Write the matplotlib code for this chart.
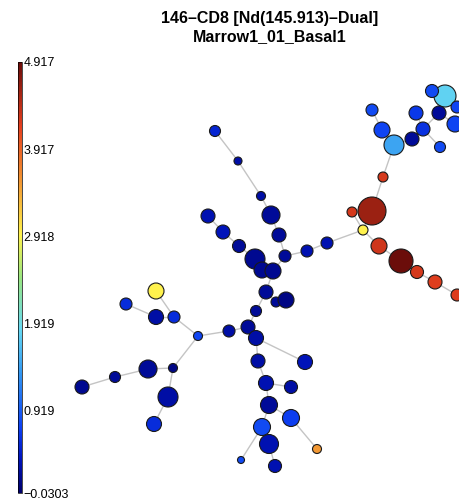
import numpy as np
import matplotlib
matplotlib.use("Agg")
import matplotlib.pyplot as plt
from matplotlib.colors import Normalize, LinearSegmentedColormap

plt.rcParams['font.family'] = ['Liberation Sans', 'DejaVu Sans']

# node layout, radius in px, marker value
node_x = [445, 432, 457, 439, 455, 416, 423, 412, 394, 382, 372, 440,
          383, 372, 352, 363, 379, 401, 417, 435, 457,
          327, 307, 285, 279, 271, 261, 238, 215, 208, 223, 239, 255, 262, 273,
          266, 276, 286, 256, 248, 256, 229, 198, 174, 156, 126, 156,
          173, 148, 115, 82, 168, 154, 258, 305, 266, 291, 269, 291, 317,
          262, 269, 241, 275]
node_y = [96, 91, 107, 113, 124, 113, 129, 139, 145, 130, 110, 147,
          177, 211, 212, 230, 246, 261, 272, 282, 295,
          243, 251, 256, 235, 215, 196, 161, 131, 216, 232, 246, 259, 270, 271,
          292, 302, 300, 311, 327, 338, 331, 336, 317, 317, 304, 291,
          368, 369, 377, 387, 397, 424, 361, 362, 383, 387, 405, 418, 449,
          427, 444, 460, 466]
node_r = [11, 6.5, 6, 7, 8, 7, 7, 7, 10, 8, 6, 5.5,
          5, 14, 5, 5, 8, 12, 6.5, 7, 6,
          6, 6, 6, 7, 9, 4.5, 4, 5.5, 7, 7, 6.5, 10, 8, 8,
          7, 5, 8, 5.5, 7, 7.5, 6, 4.5, 6, 7.5, 6, 8,
          4.5, 9, 5.5, 7, 10, 7.5, 7, 7.5, 7.5, 6.5, 8.5, 8.5, 4.5,
          8.5, 9.5, 3.5, 6.5]
node_val = [1.8, 0.8, 0.75, 0.2, 0.75, 0.65, 0.6, 0.2, 1.45, 0.75, 0.8, 0.8,
            4.27, 4.62, 4.27, 2.94, 4.3, 4.9, 4.27, 4.22, 4.22,
            0.3, 0.3, 0.2, 0.2, 0.2, 0.25, 0.25, 0.5, 0.3, 0.35, 0.2, 0.15, 0.15, 0.15,
            0.2, 0.2, 0.1, 0.2, 0.2, 0.25, 0.25, 0.75, 0.55, 0.25, 0.55, 2.94,
            0.1, 0.2, 0.2, 0.15, 0.25, 0.55, 0.25, 0.35, 0.3, 0.25, 0.2, 0.7, 3.53,
            0.8, 0.3, 0.8, 0.3]

edges = [(10, 9), (9, 8), (8, 7), (7, 6), (6, 5), (6, 3), (6, 11), (3, 0), (0, 1),
         (0, 2), (3, 4), (8, 12), (12, 13), (13, 15), (14, 15), (15, 16), (16, 17),
         (17, 18), (18, 19), (19, 20), (15, 21), (21, 22), (22, 23), (23, 24),
         (24, 25), (25, 26), (26, 27), (27, 28), (23, 34), (34, 33), (33, 32),
         (32, 31), (31, 30), (30, 29), (34, 35), (35, 36), (36, 37), (35, 38),
         (38, 39), (39, 40), (39, 41), (41, 42), (42, 43), (43, 46), (43, 44),
         (44, 45), (42, 47), (47, 48), (48, 49), (49, 50), (47, 51), (51, 52),
         (40, 53), (40, 54), (53, 55), (55, 56), (55, 57), (57, 58), (58, 59),
         (57, 60), (60, 62), (60, 61), (61, 63)]

cbar_ticks = [-0.0303, 0.919, 1.919, 2.918, 3.917, 4.917]
cbar_labels = ["\u22120.0303", "0.919", "1.919", "2.918", "3.917", "4.917"]
title_lines = ["146\u2013CD8 [Nd(145.913)\u2013Dual]", "Marrow1_01_Basal1"]

# slightly muted jet, as in the reference colour bar
cmap = LinearSegmentedColormap.from_list("mutedjet", [
    (0.0, (0.0, 0.0, 0.42)),
    (0.08, (0.0, 0.08, 0.75)),
    (0.15, (0.05, 0.25, 0.95)),
    (0.28, (0.2, 0.6, 0.95)),
    (0.38, (0.4, 0.85, 0.95)),
    (0.5, (0.6, 0.9, 0.5)),
    (0.6, (1.0, 0.95, 0.3)),
    (0.72, (0.95, 0.6, 0.2)),
    (0.85, (0.9, 0.25, 0.12)),
    (1.0, (0.42, 0.05, 0.04)),
])

W, H = 459, 500
fig = plt.figure(figsize=(W / 100, H / 100), dpi=100)
ax = fig.add_axes([0, 0, 1, 1])
ax.set_xlim(0, W)
ax.set_ylim(H, 0)
ax.axis('off')

norm = Normalize(vmin=cbar_ticks[0], vmax=cbar_ticks[-1])

for a, b in edges:
    ax.plot([node_x[a], node_x[b]], [node_y[a], node_y[b]],
            color='#c4c4c4', lw=1.0, zorder=1)

sizes = [(2 * r * 0.72) ** 2 for r in node_r]
sc = ax.scatter(node_x, node_y, s=sizes, c=node_val, cmap=cmap, norm=norm,
                edgecolors='#1a1a1a', linewidths=0.8, zorder=2)

for i, t in enumerate(title_lines):
    fig.text(270 / W, 1 - (19 + 18 * i) / H, t, ha='center', va='center',
             fontsize=11.5, fontweight='bold')

cax = fig.add_axes([18 / W, (H - 493) / H, 4 / W, 431 / H])
cb = fig.colorbar(sc, cax=cax)
cb.set_ticks(cbar_ticks)
cb.set_ticklabels(cbar_labels)
cb.outline.set_linewidth(0.5)
cax.tick_params(length=0, pad=1, labelsize=9)

fig.savefig("out.png", dpi=100)
